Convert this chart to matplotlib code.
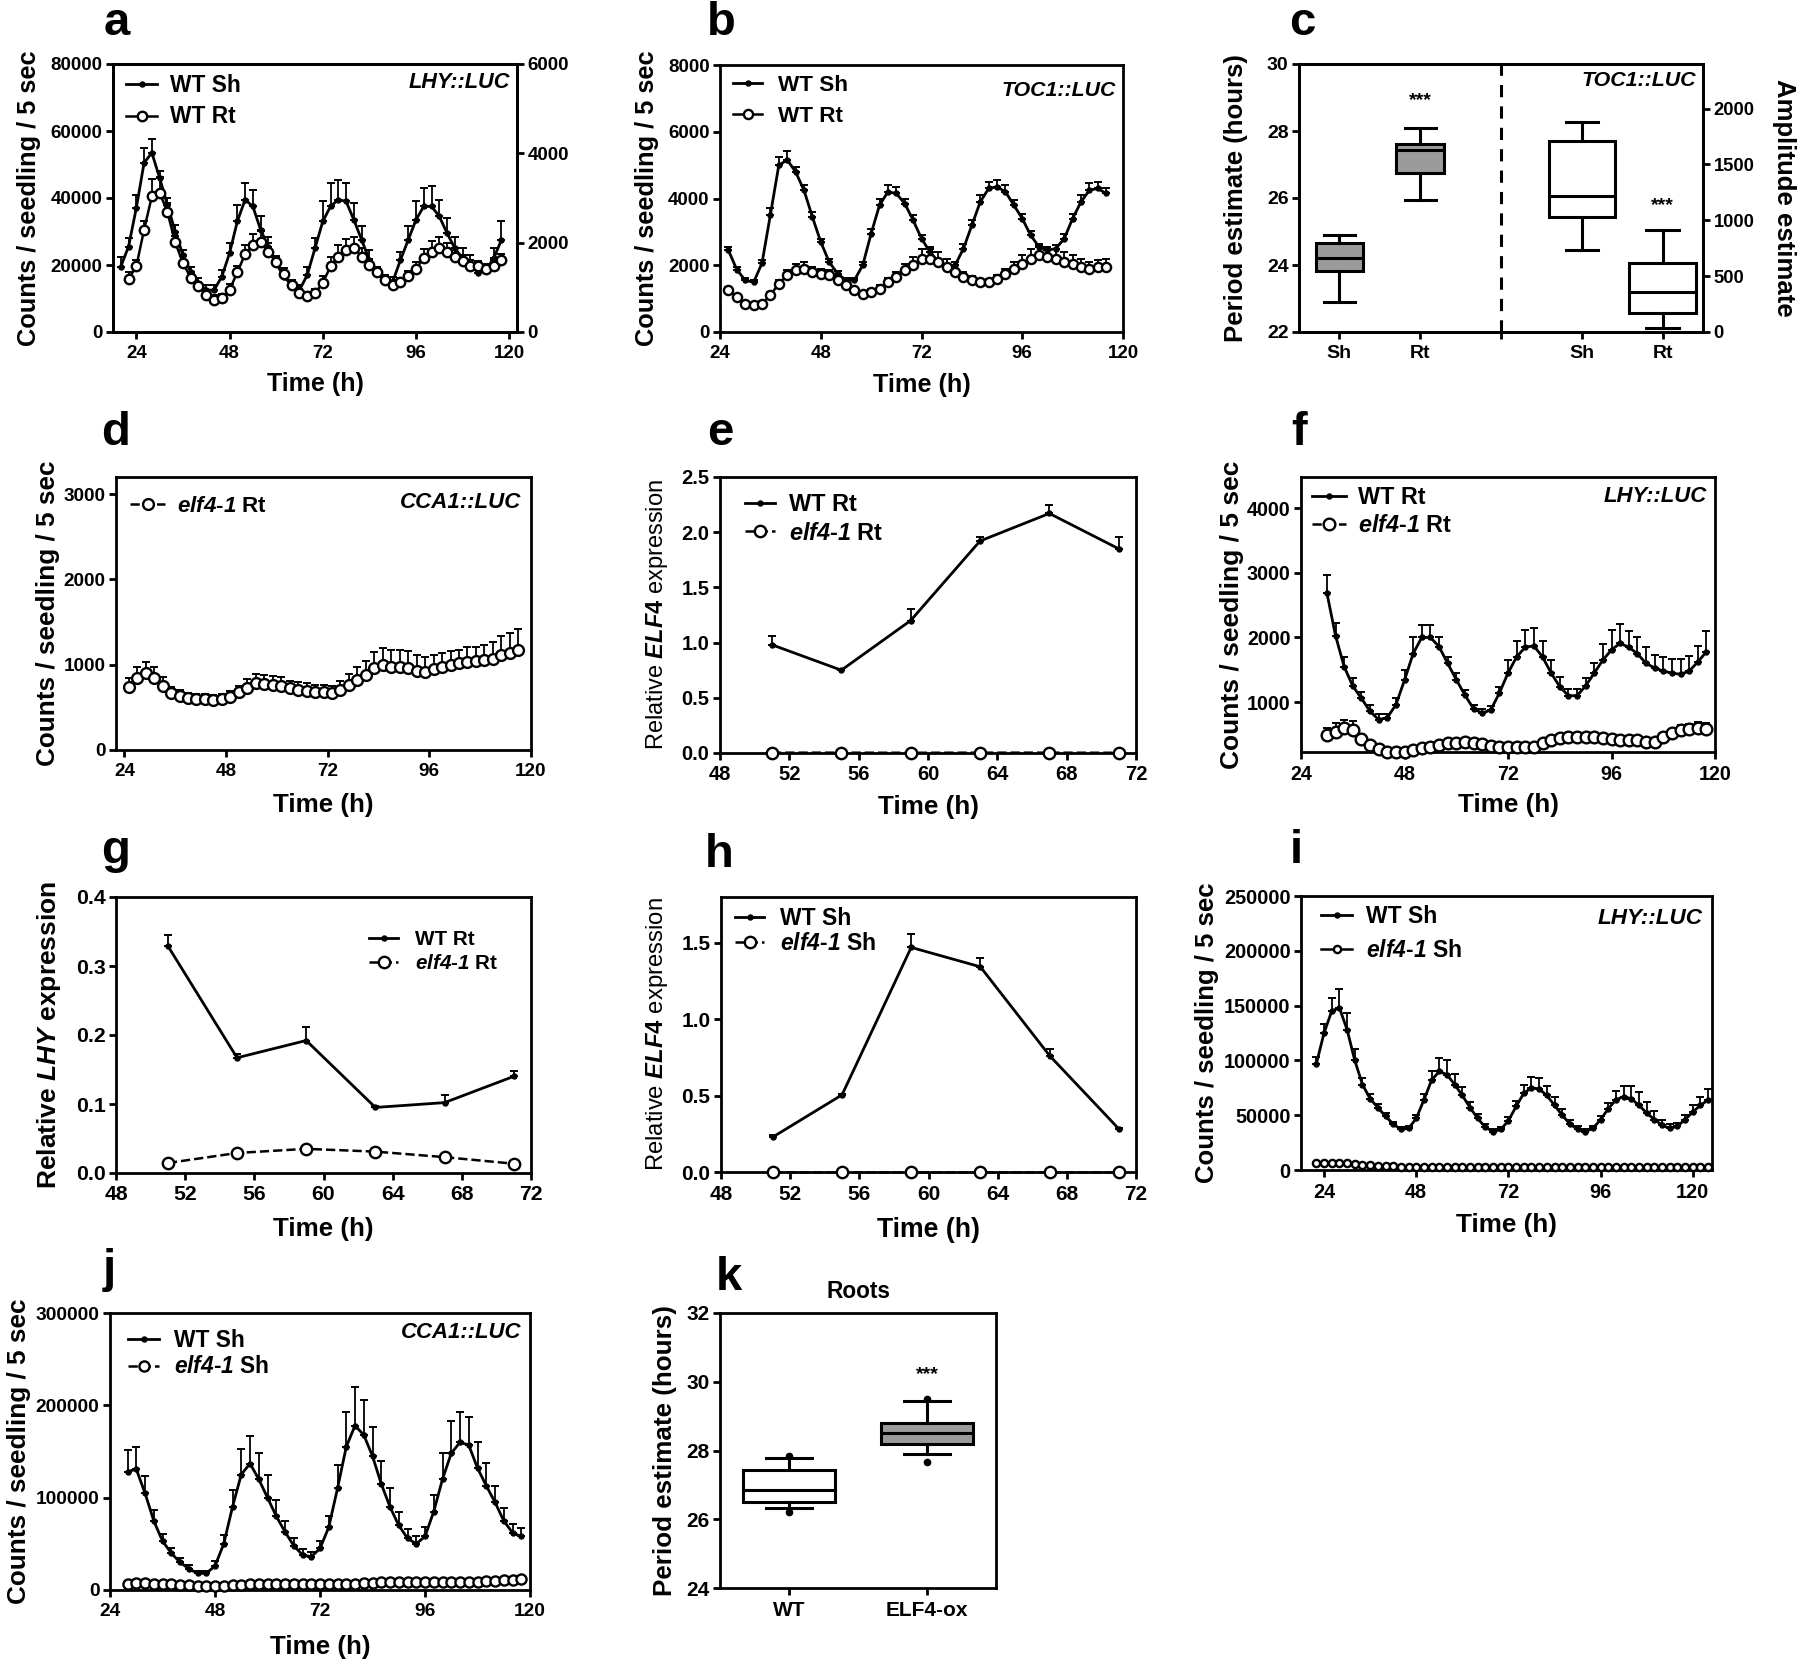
import numpy as np
import matplotlib
matplotlib.use("Agg")
import matplotlib.pyplot as plt

plt.rcParams['font.family'] = ['Liberation Sans', 'DejaVu Sans']
plt.rcParams['font.weight'] = 'bold'
plt.rcParams['axes.labelweight'] = 'bold'
plt.rcParams['mathtext.fontset'] = 'custom'
plt.rcParams['mathtext.rm'] = 'Liberation Sans:bold'
plt.rcParams['mathtext.it'] = 'Liberation Sans:italic'
plt.rcParams['mathtext.bf'] = 'Liberation Sans:bold:italic'

# ---------------- DATA ----------------
# panel a (LHY::LUC) WT shoot (left axis), WT root (right axis)
a_time_sh = list(range(20, 119, 2))
a_wt_sh = [19500, 25500, 37000, 50500, 53500, 46000, 38000, 30000, 23000, 18000,
           14500, 12500, 12500, 16500, 23500, 33000, 39500, 37500, 30500, 25500,
           20500, 16500, 14000, 12500, 17000, 25000, 33000, 37500, 39500, 39000,
           33500, 27500, 21500, 17500, 15500, 15000, 21500, 27500, 33500, 37500,
           37500, 34500, 29500, 25000, 22000, 20500, 17500, 18500, 22000, 27500]
a_wt_sh_err = [3000, 2500, 4000, 4500, 4000, 2000, 2000, 2000, 1500, 1500,
               1500, 1500, 1500, 2000, 3000, 5000, 5000, 5000, 4000, 3000,
               2000, 1500, 1500, 1500, 2500, 3000, 6000, 7000, 6000, 5500,
               5000, 4000, 3000, 2000, 1500, 1500, 2500, 4000, 5500, 5500,
               6000, 5000, 4500, 3500, 3000, 2500, 2000, 1500, 3000, 5500]
a_time_rt = list(range(22, 119, 2))
a_wt_rt = [1185, 1470, 2290, 3035, 3120, 2685, 2010, 1545, 1220, 1020,
           835, 720, 760, 945, 1335, 1745, 1940, 2010, 1790, 1560,
           1305, 1060, 870, 800, 870, 1100, 1470, 1690, 1830, 1880,
           1690, 1490, 1335, 1170, 1060, 1110, 1245, 1410, 1655, 1790,
           1880, 1800, 1670, 1580, 1485, 1470, 1410, 1470, 1605]
a_wt_rt_err = [150, 150, 200, 400, 350, 200, 150, 150, 100, 100,
               100, 100, 100, 120, 150, 200, 250, 250, 200, 150,
               120, 100, 100, 100, 100, 150, 200, 250, 250, 250,
               200, 150, 120, 100, 100, 100, 120, 150, 200, 250,
               250, 200, 200, 150, 120, 120, 120, 150, 150]

# panel b (TOC1::LUC)
b_time = list(range(26, 117, 2))
b_wt_sh = [2450, 1870, 1550, 1490, 2060, 3510, 4990, 5160, 4800, 4250,
           3450, 2700, 2100, 1750, 1550, 1550, 2000, 2950, 3800, 4200,
           4150, 3850, 3350, 2800, 2400, 2100, 1950, 2000, 2500, 3200,
           3900, 4300, 4350, 4200, 3800, 3400, 2900, 2550, 2450, 2500,
           2800, 3400, 3900, 4250, 4300, 4150]
b_wt_sh_err = [100, 80, 80, 80, 100, 200, 250, 250, 150, 150,
               150, 100, 100, 80, 80, 80, 100, 150, 200, 200,
               200, 150, 150, 120, 100, 100, 100, 100, 150, 150,
               200, 200, 200, 200, 150, 150, 120, 100, 100, 120,
               150, 150, 200, 200, 200, 150]
b_wt_rt = [1270, 1050, 850, 800, 850, 1100, 1450, 1700, 1850, 1900,
           1800, 1750, 1700, 1550, 1400, 1250, 1150, 1200, 1300, 1500,
           1650, 1850, 2000, 2200, 2200, 2100, 1950, 1800, 1650, 1550,
           1500, 1500, 1600, 1750, 1900, 2050, 2200, 2300, 2250, 2200,
           2100, 2050, 1950, 1900, 1950, 1950]
b_wt_rt_err = [80, 80, 60, 60, 80, 100, 120, 150, 180, 200,
               150, 150, 150, 120, 100, 100, 80, 80, 100, 120,
               150, 200, 250, 300, 350, 300, 250, 200, 150, 120,
               100, 100, 120, 150, 200, 250, 300, 300, 300, 300,
               300, 250, 250, 200, 200, 250]

# panel c (TOC1::LUC period / amplitude box plots)
c_groups = ['Sh', 'Rt']
c_period_whislo = [22.9, 25.95]
c_period_q1 = [23.82, 26.75]
c_period_med = [24.2, 27.42]
c_period_q3 = [24.67, 27.62]
c_period_whishi = [24.9, 28.1]
c_amp_whislo = [735, 40]
c_amp_q1 = [1030, 170]
c_amp_med = [1215, 360]
c_amp_q3 = [1710, 620]
c_amp_whishi = [1880, 915]

# panel d (CCA1::LUC, elf4-1 root)
d_time = list(range(25, 118, 2))
d_elf4_rt = [742, 848, 906, 848, 750, 664, 637, 605, 598, 594,
             586, 598, 625, 676, 730, 781, 773, 762, 754, 723,
             703, 691, 676, 676, 664, 703, 762, 820, 879, 957,
             996, 977, 977, 965, 930, 918, 945, 977, 996, 1016,
             1035, 1043, 1055, 1063, 1113, 1133, 1172]
d_elf4_rt_err = [100, 130, 130, 130, 100, 80, 70, 60, 60, 60,
                 60, 60, 70, 80, 100, 110, 110, 100, 100, 90,
                 90, 90, 90, 90, 90, 110, 130, 150, 170, 190,
                 200, 200, 200, 190, 180, 170, 170, 160, 160, 160,
                 170, 170, 180, 200, 220, 240, 250]

# panels e, g, h (qPCR)
q_time = [51, 55, 59, 63, 67, 71]
e_wt_rt = [0.98, 0.75, 1.20, 1.92, 2.17, 1.85]
e_wt_rt_err = [0.08, 0.01, 0.10, 0.04, 0.08, 0.11]
e_elf4_rt = [0.003, 0.003, 0.002, 0.003, 0.003, 0.002]
g_wt_rt = [0.329, 0.167, 0.192, 0.095, 0.102, 0.140]
g_wt_rt_err = [0.016, 0.005, 0.019, 0.002, 0.011, 0.008]
g_elf4_rt = [0.0145, 0.029, 0.035, 0.031, 0.023, 0.0135]
h_wt_sh = [0.229, 0.505, 1.47, 1.343, 0.762, 0.283]
h_wt_sh_err = [0.01, 0.005, 0.09, 0.06, 0.04, 0.005]
h_elf4_sh = [0.002, 0.002, 0.002, 0.002, 0.002, 0.002]

# panel f (LHY::LUC roots)
f_time = list(range(30, 119, 2))
f_wt_rt = [2690, 2030, 1550, 1250, 1060, 860, 730, 760, 960, 1340,
           1750, 2000, 2000, 1860, 1600, 1350, 1110, 900, 830, 880,
           1140, 1450, 1700, 1850, 1870, 1700, 1450, 1240, 1100, 1100,
           1250, 1450, 1650, 1810, 1910, 1850, 1750, 1600, 1530, 1480,
           1450, 1430, 1480, 1620, 1780]
f_wt_rt_err = [270, 200, 150, 120, 100, 100, 80, 60, 100, 150,
               250, 200, 200, 150, 100, 100, 80, 60, 60, 60,
               100, 200, 250, 260, 280, 250, 200, 150, 100, 100,
               120, 150, 250, 300, 300, 250, 250, 250, 200, 220,
               220, 230, 230, 250, 320]
f_elf4_rt = [495, 546, 598, 572, 428, 340, 278, 237, 227, 237,
             263, 289, 314, 340, 366, 376, 381, 376, 356, 330,
             314, 304, 304, 304, 314, 366, 418, 443, 459, 469,
             469, 469, 443, 428, 418, 418, 418, 392, 392, 469,
             521, 572, 582, 598, 582]
f_elf4_rt_err = [100, 130, 130, 130, 80, 60, 50, 40, 40, 40,
                 40, 40, 40, 40, 50, 50, 50, 50, 50, 50,
                 50, 40, 40, 40, 40, 50, 60, 60, 60, 60,
                 60, 60, 60, 60, 60, 60, 60, 50, 50, 50,
                 60, 70, 80, 90, 100]

# panel i (LHY::LUC shoots)
i_time = list(range(22, 125, 2))
i_wt_sh = [97000, 125000, 145000, 148000, 128000, 100000, 78000, 65000, 57000, 49000,
           42000, 37000, 38000, 47000, 64000, 82000, 90000, 87000, 78000, 68000,
           57000, 47000, 39000, 35000, 37000, 45000, 58000, 70000, 75000, 74000,
           68000, 59000, 50000, 42000, 37000, 35000, 38000, 46000, 56000, 64000,
           67000, 65000, 59000, 52000, 46000, 41000, 38000, 40000, 46000, 53000,
           59000, 64000]
i_wt_sh_err = [6000, 8000, 12000, 17000, 15000, 10000, 6000, 4000, 3000, 3000,
               2000, 2000, 2000, 3000, 5000, 8000, 12000, 13000, 10000, 8000,
               5000, 4000, 3000, 2000, 2000, 3000, 5000, 8000, 10000, 10000,
               9000, 8000, 6000, 4000, 3000, 2000, 2000, 3000, 5000, 8000,
               10000, 12000, 12000, 10000, 8000, 5000, 4000, 3000, 4000, 6000,
               8000, 10000]
i_elf4_sh = [6500, 6500, 6000, 6000, 6000, 5500, 5000, 4500, 4000, 3500,
             3500, 3000, 3000, 3000, 3000, 3000, 3000, 3000, 3000, 3000,
             3000, 3000, 3000, 3000, 3000, 3000, 3000, 3000, 3000, 3000,
             3000, 3000, 3000, 3000, 3000, 3000, 3000, 3000, 2500, 2500,
             2500, 2500, 2500, 2500, 2500, 2500, 2500, 2500, 2500, 2500,
             2500, 2500]

# panel j (CCA1::LUC shoots)
j_time = list(range(28, 119, 2))
j_wt_sh = [128000, 131000, 105000, 75000, 53000, 40000, 30000, 23000, 18000, 18000,
           26000, 50000, 90000, 125000, 137000, 120000, 100000, 80000, 63000, 48000,
           38000, 36000, 45000, 68000, 110000, 155000, 178000, 168000, 145000, 115000,
           90000, 70000, 56000, 50000, 58000, 85000, 120000, 148000, 160000, 157000,
           132000, 113000, 95000, 75000, 62000, 58000]
j_wt_sh_err = [24000, 24000, 18000, 12000, 8000, 6000, 5000, 4000, 3000, 3000,
               5000, 10000, 18000, 28000, 30000, 28000, 25000, 18000, 12000, 8000,
               6000, 5000, 8000, 12000, 25000, 38000, 42000, 38000, 32000, 25000,
               20000, 15000, 10000, 8000, 10000, 18000, 28000, 35000, 33000, 30000,
               28000, 25000, 18000, 14000, 10000, 9000]
j_elf4_sh = [7000, 7500, 7500, 7000, 6500, 6000, 5500, 5000, 4500, 4500,
             4500, 4500, 5000, 5500, 6000, 6000, 6500, 6500, 7000, 7000,
             7000, 7000, 7000, 7000, 7000, 7000, 7000, 7500, 8000, 8500,
             8500, 9000, 9000, 9000, 9000, 9000, 9000, 9000, 9000, 9000,
             9000, 9500, 10000, 10500, 11000, 11500]

# panel k (roots period box plot)
k_groups = ['WT', 'ELF4-ox']
k_whislo = [26.32, 27.9]
k_q1 = [26.49, 28.2]
k_med = [26.84, 28.51]
k_q3 = [27.42, 28.8]
k_whishi = [27.78, 29.43]
k_fliers = [[27.85, 26.22], [29.5, 27.68]]

ELF4_LAB = 'Relative $\\mathit{ELF4}$ expression'
LHY_LAB = 'Relative $\\mathbf{LHY}$ expression'
ELF_RT = '$\\mathbf{elf4}$-$\\mathbf{1}$ Rt'
ELF_SH = '$\\mathbf{elf4}$-$\\mathbf{1}$ Sh'
COUNTS = 'Counts / seedling / 5 sec'

# ---------------- FIGURE ----------------
W, H = 1800, 1662
fig = plt.figure(figsize=(W / 100, H / 100), dpi=100)
GRAY = '#9b9b9b'


def style(ax, fs):
    for s in ax.spines.values():
        s.set_linewidth(2.0)
    ax.tick_params(axis='both', width=2.0, length=5, direction='out', labelsize=fs)
    ax.tick_params(axis='y', pad=2.5)
    ax.tick_params(axis='x', pad=4)


def make_ax(box, fs):
    l, t, r, b = box
    ax = fig.add_axes([l / W, 1 - b / H, (r - l) / W, (b - t) / H])
    style(ax, fs)
    return ax


def set_ylab(ax, box, text, x_px, fs, weight='bold', right=False):
    l, t, r, b = box
    if right:
        ax.set_ylabel(text, fontsize=fs, fontweight=weight, rotation=270, va='bottom')
    else:
        ax.set_ylabel(text, fontsize=fs, fontweight=weight)
    ax.yaxis.set_label_coords((x_px - l) / (r - l), 0.5)


def set_xlab(ax, box, y_px, fs):
    l, t, r, b = box
    ax.set_xlabel('Time (h)', fontsize=fs)
    ax.xaxis.set_label_coords(0.5, -(y_px - b) / (b - t))


def add_legend(ax, handles, labels, x_px, row1_px, gap_px, fs, hl_px, text_px):
    fpx = fs * 100 / 72
    return ax.legend(handles, labels, loc='upper left',
                     bbox_to_anchor=(x_px / W, 1 - (row1_px - 0.37 * fpx) / H),
                     bbox_transform=fig.transFigure, frameon=False, fontsize=fs,
                     borderpad=0, borderaxespad=0, numpoints=1,
                     handlelength=hl_px / fpx,
                     handletextpad=(text_px - x_px - hl_px) / fpx,
                     labelspacing=max(0.0, (gap_px - 0.97 * fpx) / fpx))


def letter(s, x, y):
    fig.text(x / W, 1 - y / H, s, fontsize=34, fontweight='bold', ha='left', va='baseline')


def tag(s, x, y, fs):
    fig.text(x / W, 1 - y / H, s, fontsize=fs, fontweight='bold', style='italic',
             ha='right', va='center')


def dot_series(ax, t, y, e, ms=3.6):
    if e is not None:
        ax.errorbar(t, y, yerr=[np.zeros(len(e)), e], fmt='none', ecolor='black',
                    elinewidth=1.3, capsize=3, capthick=1.4, zorder=2)
    ln, = ax.plot(t, y, '-', color='black', lw=2.0, marker='o', ms=ms, zorder=3)
    return ln


def circ_series(ax, t, y, e, ms, ls='--'):
    if e is not None:
        ax.errorbar(t, y, yerr=[np.zeros(len(e)), e], fmt='none', ecolor='black',
                    elinewidth=1.3, capsize=3, capthick=1.4, zorder=2)
    ln, = ax.plot(t, y, color='black', lw=1.8, ls=ls, marker='o', ms=ms, mfc='white',
                  mec='black', mew=1.7, zorder=4, clip_on=False)
    return ln


TT = [24, 48, 72, 96, 120]
QT = [48, 52, 56, 60, 64, 68, 72]

# ---- a ----
box = (113, 64, 517, 332)
ax = make_ax(box, 13.5)
l1 = dot_series(ax, a_time_sh, a_wt_sh, a_wt_sh_err)
ax.set_xlim(18, 122); ax.set_ylim(0, 80000)
ax.set_xticks(TT); ax.set_yticks([0, 20000, 40000, 60000, 80000])
ax2 = ax.twinx(); style(ax2, 13.5)
l2 = circ_series(ax2, a_time_rt, a_wt_rt, a_wt_rt_err, ms=6.8, ls='-')
ax2.set_ylim(0, 6000); ax2.set_yticks([0, 2000, 4000, 6000])
ax2.set_xlim(18, 122)
set_ylab(ax, box, COUNTS, 41, 18.3)
set_xlab(ax, box, 372, 18)
add_legend(ax2, [l1, l2], ['WT Sh', 'WT Rt'], 126, 82, 31, 16.4, 31, 170)
tag('LHY::LUC', 510, 83, 15.7)
letter('a', 104, 35)

# ---- b ----
box = (720, 65, 1123, 332)
ax = make_ax(box, 13.5)
l1 = dot_series(ax, b_time, b_wt_sh, b_wt_sh_err)
l2 = circ_series(ax, b_time, b_wt_rt, b_wt_rt_err, ms=6.6, ls='-')
ax.set_xlim(24, 120); ax.set_ylim(0, 8000)
ax.set_xticks(TT); ax.set_yticks([0, 2000, 4000, 6000, 8000])
set_ylab(ax, box, COUNTS, 659, 18.3)
set_xlab(ax, box, 373, 18.2)
add_legend(ax, [l1, l2], ['WT Sh', 'WT Rt'], 733, 83, 32, 16.2, 29, 778)
tag('TOC1::LUC', 1116, 90, 15.3)
letter('b', 707, 35)

# ---- c ----
box = (1299, 64, 1703, 332)
ax = make_ax(box, 14)
per_stats = [dict(label=g, whislo=a, q1=b_, med=m, q3=c_, whishi=d, fliers=[])
             for g, a, b_, m, c_, d in zip(c_groups, c_period_whislo, c_period_q1,
                                           c_period_med, c_period_q3, c_period_whishi)]
amp_stats = [dict(label=g, whislo=a, q1=b_, med=m, q3=c_, whishi=d, fliers=[])
             for g, a, b_, m, c_, d in zip(c_groups, c_amp_whislo, c_amp_q1,
                                           c_amp_med, c_amp_q3, c_amp_whishi)]
bp_kw = dict(patch_artist=True, showfliers=False, manage_ticks=False,
             medianprops=dict(color='black', linewidth=2.2),
             whiskerprops=dict(color='black', linewidth=2.2),
             capprops=dict(color='black', linewidth=2.2))
ax.bxp(per_stats, positions=[1, 2], widths=0.59, capwidths=0.38,
       boxprops=dict(facecolor=GRAY, edgecolor='black', linewidth=2.2), **bp_kw)
ax.axvline(3, color='black', lw=2.2, ls=(0, (4, 3)))
ax.set_ylim(22, 30); ax.set_yticks([22, 24, 26, 28, 30])
ax.text(2, 28.9, '***', ha='center', va='center', fontsize=14)
ax2 = ax.twinx(); style(ax2, 13.2)
ax2.bxp(amp_stats, positions=[4, 5], widths=0.82, capwidths=0.4,
        boxprops=dict(facecolor='white', edgecolor='black', linewidth=2.2), **bp_kw)
ax2.set_ylim(0, 2400); ax2.set_yticks([0, 500, 1000, 1500, 2000])
ax2.text(5, 1130, '***', ha='center', va='center', fontsize=14)
ax.set_xlim(0.5, 5.5); ax2.set_xlim(0.5, 5.5)
ax.set_xticks([1, 2, 3, 4, 5], ['Sh', 'Rt', '', 'Sh', 'Rt'])
ax.tick_params(axis='x', labelsize=14)
set_ylab(ax, box, 'Period estimate (hours)', 1248, 18.5)
set_ylab(ax2, box, 'Amplitude estimate', 1772, 18.5, right=True)
tag('TOC1::LUC', 1696, 80, 15.4)
letter('c', 1289, 35)

# ---- d ----
box = (116, 477, 531, 750)
ax = make_ax(box, 13.6)
l1 = circ_series(ax, d_time, d_elf4_rt, d_elf4_rt_err, ms=7.8)
ax.set_xlim(22, 120); ax.set_ylim(0, 3200)
ax.set_xticks(TT); ax.set_yticks([0, 1000, 2000, 3000])
set_ylab(ax, box, COUNTS, 60, 18.8)
set_xlab(ax, box, 793, 18.7)
add_legend(ax, [l1], [ELF_RT], 130, 504, 28, 16.1, 35, 177)
tag('CCA1::LUC', 521, 503, 16)
letter('d', 101, 445)

# ---- e ----
box = (720, 477, 1136, 753)
ax = make_ax(box, 14.5)
l1 = dot_series(ax, q_time, e_wt_rt, e_wt_rt_err)
l2 = circ_series(ax, q_time, e_elf4_rt, None, ms=8.2)
ax.set_xlim(48, 72); ax.set_ylim(0, 2.5)
ax.set_xticks(QT); ax.set_yticks([0, 0.5, 1.0, 1.5, 2.0, 2.5])
set_ylab(ax, box, ELF4_LAB, 670, 17, weight='normal')
set_xlab(ax, box, 795, 18.8)
add_legend(ax, [l1, l2], ['WT Rt', ELF_RT], 745, 502, 28, 16.9, 30, 789)
letter('e', 707, 445)

# ---- f ----
box = (1301, 477, 1715, 752)
ax = make_ax(box, 14.2)
l1 = dot_series(ax, f_time, f_wt_rt, f_wt_rt_err)
l2 = circ_series(ax, f_time, f_elf4_rt, f_elf4_rt_err, ms=8.4)
ax.set_xlim(24, 120); ax.set_ylim(230, 4480)
ax.set_xticks(TT); ax.set_yticks([1000, 2000, 3000, 4000])
set_ylab(ax, box, COUNTS, 1244, 19)
set_xlab(ax, box, 793, 18.8)
add_legend(ax, [l1, l2], ['WT Rt', ELF_RT], 1312, 495, 27, 16.8, 34, 1358)
tag('LHY::LUC', 1707, 497, 15.9)
letter('f', 1291, 445)

# ---- g ----
box = (116, 897, 531, 1173)
ax = make_ax(box, 15.3)
l1 = dot_series(ax, q_time, g_wt_rt, g_wt_rt_err)
l2 = circ_series(ax, q_time, g_elf4_rt, None, ms=8.2)
ax.set_xlim(48, 72); ax.set_ylim(0, 0.4)
ax.set_xticks(QT); ax.set_yticks([0, 0.1, 0.2, 0.3, 0.4])
set_ylab(ax, box, LHY_LAB, 63, 19)
set_xlab(ax, box, 1217, 18.7)
add_legend(ax, [l1, l2], ['WT Rt', ELF_RT], 369, 938, 25, 14.9, 29, 415)
letter('g', 101, 863)

# ---- h ----
box = (721, 897, 1136, 1172)
ax = make_ax(box, 15)
l1 = dot_series(ax, q_time, h_wt_sh, h_wt_sh_err)
l2 = circ_series(ax, q_time, h_elf4_sh, None, ms=8.2)
ax.set_xlim(48, 72); ax.set_ylim(0, 1.8)
ax.set_xticks(QT); ax.set_yticks([0, 0.5, 1.0, 1.5])
set_ylab(ax, box, ELF4_LAB, 670, 17.2, weight='normal')
set_xlab(ax, box, 1217, 19.2)
add_legend(ax, [l1, l2], ['WT Sh', ELF_SH], 735, 915, 25, 16.5, 29, 780)
letter('h', 705, 867)

# ---- i ----
box = (1301, 896, 1712, 1170)
ax = make_ax(box, 14.3)
l1 = dot_series(ax, i_time, i_wt_sh, i_wt_sh_err)
l2 = circ_series(ax, i_time, i_elf4_sh, None, ms=5.2, ls='-')
ax.set_xlim(18, 125); ax.set_ylim(0, 250000)
ax.set_xticks(TT); ax.set_yticks([0, 50000, 100000, 150000, 200000, 250000])
set_ylab(ax, box, COUNTS, 1219, 18.5)
set_xlab(ax, box, 1213, 18.8)
add_legend(ax, [l1, l2], ['WT Sh', ELF_SH], 1321, 913, 34, 16.5, 31, 1366)
tag('LHY::LUC', 1703, 918, 16.2)
letter('i', 1290, 863)

# ---- j ----
box = (110, 1313, 530, 1590)
ax = make_ax(box, 13.8)
l1 = dot_series(ax, j_time, j_wt_sh, j_wt_sh_err)
l2 = circ_series(ax, j_time, j_elf4_sh, None, ms=7.3)
ax.set_xlim(24, 120); ax.set_ylim(0, 300000)
ax.set_xticks(TT); ax.set_yticks([0, 100000, 200000, 300000])
set_ylab(ax, box, COUNTS, 31, 18.8)
set_xlab(ax, box, 1635, 18.7)
add_legend(ax, [l1, l2], ['WT Sh', ELF_SH], 128, 1337, 26, 16.4, 31, 174)
tag('CCA1::LUC', 521, 1333, 15.9)
letter('j', 103, 1282)

# ---- k ----
box = (720, 1313, 996, 1588)
ax = make_ax(box, 15)
k_stats = [dict(label=g, whislo=a, q1=b_, med=m, q3=c_, whishi=d, fliers=f)
           for g, a, b_, m, c_, d, f in zip(k_groups, k_whislo, k_q1, k_med, k_q3,
                                              k_whishi, k_fliers)]
res = ax.bxp(k_stats, positions=[1, 2], widths=0.67, capwidths=0.33,
             patch_artist=True, showfliers=True, manage_ticks=False,
             boxprops=dict(facecolor='white', edgecolor='black', linewidth=2.2),
             medianprops=dict(color='black', linewidth=2.2),
             whiskerprops=dict(color='black', linewidth=2.2),
             capprops=dict(color='black', linewidth=2.2),
             flierprops=dict(marker='o', markerfacecolor='black',
                             markeredgecolor='black', markersize=4.5))
res['boxes'][1].set_facecolor(GRAY)
ax.set_xlim(0.5, 2.5); ax.set_ylim(24, 32)
ax.set_xticks([1, 2], k_groups); ax.set_yticks([24, 26, 28, 30, 32])
ax.text(2, 30.2, '***', ha='center', va='center', fontsize=14)
ax.set_title('Roots', fontsize=16.3, fontweight='bold', pad=10.8)
set_ylab(ax, box, 'Period estimate (hours)', 677, 18.7)
letter('k', 716, 1290)

fig.savefig('out.png', dpi=100, facecolor='white')
